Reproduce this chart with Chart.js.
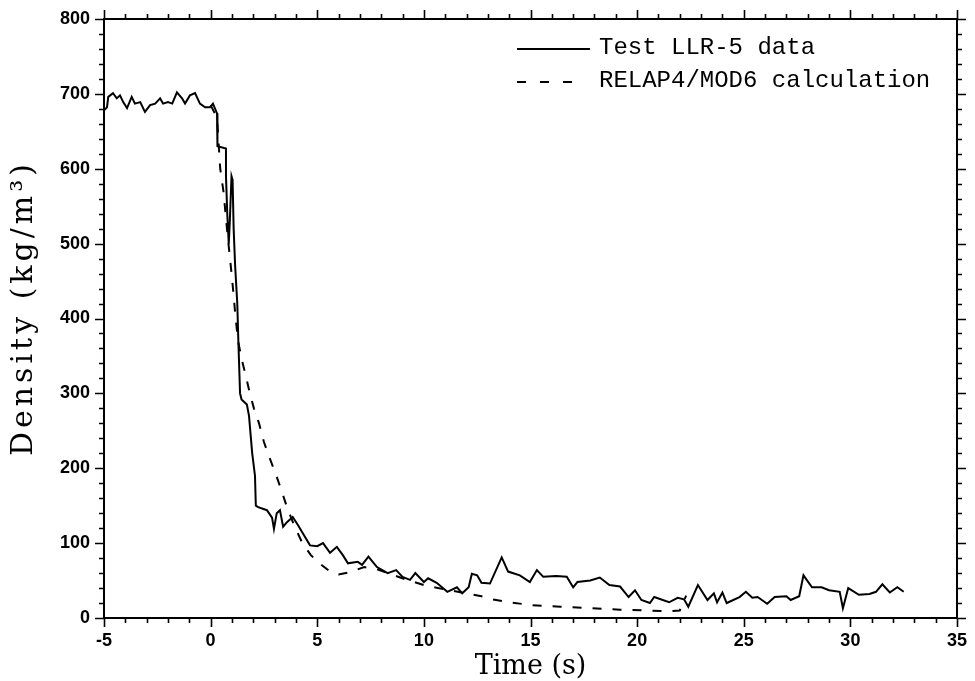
<!DOCTYPE html>
<html><head><meta charset="utf-8">
<script src="https://cdn.jsdelivr.net/npm/chart.js@4/dist/chart.umd.min.js"></script>
<style>html,body{margin:0;padding:0;background:#fff;}#wrap{width:975px;height:681px;}</style>
</head><body><div id="wrap"><canvas id="c" width="975" height="681"></canvas></div>
<script>
// ---- data ----
const testTime = [-5,-4.86,-4.8,-4.58,-4.4,-4.25,-4.1,-3.92,-3.7,-3.55,-3.3,-3.08,-2.84,-2.6,-2.37,-2.23,-2.0,-1.8,-1.58,-1.34,-1.2,-0.97,-0.73,-0.5,-0.26,-0.03,0.11,0.30,
 0.32,0.72,0.72,0.78,0.85,0.9,0.98,1.03,1.08,1.15,1.25,1.3,1.38,1.45,1.7,1.8,1.95,2.08,2.12,2.23,2.64,2.88,2.97,3.1,3.25,3.4,3.58,3.85,4.1,4.33,4.66,5.0,5.27,5.6,5.92,6.2,6.44,6.9,7.1,7.4,7.8,8.3,8.7,9.0,9.35,9.6,10.0,10.2,10.6,11.1,11.55,11.8,12.1,12.25,12.5,12.7,13.1,13.65,13.95,14.5,14.97,15.3,15.6,16.2,16.7,17.0,17.2,17.8,18.25,18.7,19.2,19.6,19.9,20.2,20.6,20.8,21.5,21.9,22.2,22.4,22.85,23.3,23.6,23.75,24.0,24.2,24.8,25.1,25.4,25.65,26.1,26.45,27.0,27.2,27.6,27.8,28.2,28.65,29.0,29.5,29.65,29.9,30.4,30.9,31.2,31.5,31.85,32.2,32.5];
const testDensity = [678,682,696,701,694,698,689,681,696,687,689,676,685,687,694,687,689,687,702,694,687,698,701,687,682,682,687,674,
 630,627,590,540,500,530,590,585,520,470,420,370,300,292,285,270,220,190,150,148,144,134,119,140,144,122,128,135,124,113,97,96,100,87,95,84,73,75,71,82,68,60,64,55,51,60,48,53,47,35,41,33,41,59,57,47,46,81,62,57,48,64,55,56,55,41,48,50,54,44,42,28,37,24,20,28,21,27,25,15,44,24,33,21,34,20,28,35,27,28,19,28,29,24,29,57,41,41,37,35,13,40,31,32,35,45,34,41,35];
const calcTime = [0.0,0.3,0.45,0.6,0.8,1.0,1.14,1.28,1.47,1.66,1.84,2.03,2.27,2.5,2.75,3.07,3.35,3.58,3.9,4.3,4.7,5.1,5.6,6.0,6.5,7.2,7.8,8.6,9.2,10.0,11.0,12.0,12.7,13.2,14.0,15.1,16.4,17.9,19.2,20.5,21.5,22.0,22.3];
const calcDensity = [685,668,600,570,510,455,411,371,344,322,300,280,260,235,215,191,168,148,125,100,84,73,62,58,61,68,65,57,51,44,38,33,29,25,21,17,15,13,11,10,9,10,30];
const xTickValues = [-5,0,5,10,15,20,25,30,35];
const yTickValues = [0,100,200,300,400,500,600,700,800];
const seriesNames = ['Test LLR-5 data','RELAP4/MOD6 calculation'];
const xTitle = 'Time (s)';
const yTitle = 'Density (kg/m\u00B3)';

const toPts = (xs, ys) => xs.map((x, i) => ({x, y: ys[i]}));

const frame = {
  id: 'frame',
  afterDraw(chart) {
    const {ctx, chartArea: a, scales: {x, y}} = chart;
    ctx.save();
    ctx.strokeStyle = '#000';
    ctx.lineWidth = 2;
    ctx.strokeRect(a.left, a.top, a.right - a.left, a.bottom - a.top);
    ctx.lineWidth = 1.6;
    ctx.beginPath();
    for (let v = x.min; v <= x.max + 1e-9; v += 1) {
      const px = Math.round(x.getPixelForValue(v)) + 0.5;
      const L = (Math.abs(v % 5) < 1e-9) ? 9 : 5;
      ctx.moveTo(px, a.bottom); ctx.lineTo(px, a.bottom + L);
      ctx.moveTo(px, a.top); ctx.lineTo(px, a.top - L);
    }
    for (let v = y.min; v <= y.max + 1e-9; v += 20) {
      const py = Math.round(y.getPixelForValue(v)) + 0.5;
      const L = (Math.abs(v % 100) < 1e-9) ? 9 : 5;
      ctx.moveTo(a.left, py); ctx.lineTo(a.left - L, py);
      ctx.moveTo(a.right, py); ctx.lineTo(a.right + L, py);
    }
    ctx.stroke();
    // legend
    const ds = chart.data.datasets;
    const rows = [49, 82];
    ctx.font = '24px "Liberation Mono", "DejaVu Sans Mono", monospace';
    ctx.fillStyle = '#000';
    ctx.textBaseline = 'middle';
    ds.forEach((d, i) => {
      ctx.beginPath();
      ctx.lineWidth = 2;
      ctx.setLineDash(i === 0 ? [] : [9, 14]);
      ctx.moveTo(517, rows[i]); ctx.lineTo(i === 0 ? 590 : 575, rows[i]);
      ctx.stroke();
      ctx.setLineDash([]);
      ctx.fillText(d.label, 599, rows[i] - 1);
    });
    // axis titles
    ctx.font = '27px "DejaVu Serif", serif';
    ctx.textAlign = 'center';
    ctx.fillText(xTitle, (a.left + a.right) / 2, 667);
    ctx.translate(24, 308);
    ctx.rotate(-Math.PI / 2);
    ctx.font = '30px "DejaVu Serif", serif';
    if ('letterSpacing' in ctx) ctx.letterSpacing = '4px';
    ctx.fillText(yTitle, 0, 0);
    ctx.restore();
  }
};

new Chart(document.getElementById('c'), {
  type: 'line',
  data: {
    datasets: [
      {label: seriesNames[0], data: toPts(testTime, testDensity), borderColor: '#000', borderWidth: 2, pointRadius: 0, tension: 0, fill: false},
      {label: seriesNames[1], data: toPts(calcTime, calcDensity), borderColor: '#000', borderWidth: 2, borderDash: [9, 11], pointRadius: 0, tension: 0, fill: false}
    ]
  },
  options: {
    responsive: false,
    devicePixelRatio: 1,
    animation: false,
    layout: {padding: {left: 0, right: 18, top: 19, bottom: 0}},
    plugins: {legend: {display: false}, tooltip: {enabled: false}},
    scales: {
      x: {
        type: 'linear', min: -5, max: 35,
        afterFit: s => { s.height = 63; s.paddingLeft = 0; s.paddingRight = 0; },
        afterBuildTicks: s => { s.ticks = xTickValues.map(v => ({value: v})); },
        grid: {display: false, drawTicks: false},
        border: {display: false},
        ticks: {color: '#000', padding: 12, font: {family: '"Liberation Sans", Arial, sans-serif', size: 18, weight: 'bold'}, callback: v => String(v)}
      },
      y: {
        type: 'linear', min: 0, max: 800,
        afterFit: s => { s.width = 104; s.paddingTop = 0; s.paddingBottom = 0; },
        afterBuildTicks: s => { s.ticks = yTickValues.map(v => ({value: v})); },
        grid: {display: false, drawTicks: false},
        border: {display: false},
        ticks: {color: '#000', padding: 14, font: {family: '"Liberation Sans", Arial, sans-serif', size: 18, weight: 'bold'}}
      }
    }
  },
  plugins: [frame]
});
</script></body></html>
